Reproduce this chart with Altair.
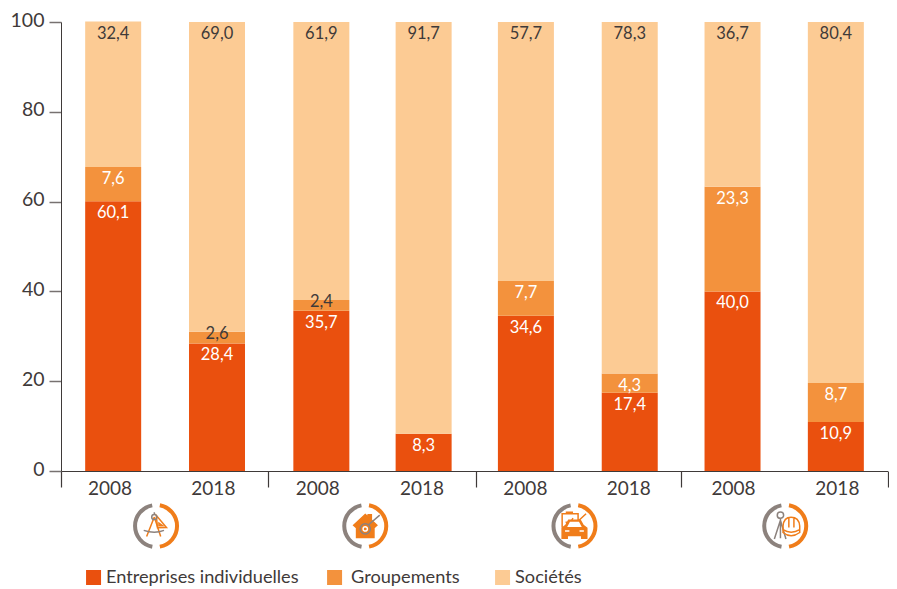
import altair as alt
import pandas as pd

years = ["2008", "2018", "2008", "2018", "2008", "2018", "2008", "2018"]
bar_pos = [0.505, 1.51, 2.52, 3.51, 4.5, 5.505, 6.5, 7.5]
year_pos = [0.47, 1.47, 2.48, 3.49, 4.49, 5.49, 6.505, 7.51]
entreprises = [60.1, 28.4, 35.7, 8.3, 34.6, 17.4, 40.0, 10.9]
groupements = [7.6, 2.6, 2.4, None, 7.7, 4.3, 23.3, 8.7]
societes = [32.4, 69.0, 61.9, 91.7, 57.7, 78.3, 36.7, 80.4]
series = ["Entreprises individuelles", "Groupements", "Sociétés"]
colors = ["#ea500e", "#f3923d", "#fccb94"]
y_ticks = [0, 20, 40, 60, 80, 100]
dividers = [0, 2, 4.015, 6, 8]
icon_x = [0.92, 2.945, 4.97, 7.01]
legend_swatch_x = [0.315, 2.648, 4.274]
legend_text_x = [0.435, 2.807, 4.395]

icon_paths = [
    ("M-.12,-.62 L-.65,.72 M-.12,-.62 L.32,.72", "#f07d1a", "none"),
    ("M.02,-.72 L.72,.1 L.1,.12 Z M.2,-.2 L.45,-.02 L.2,-.02 Z", "#f07d1a", "none"),
    ("M-.85,.3 Q-.1,.55 .55,.3 M-.12,-.95 L-.12,-.78 M-.3,-.62 A.17,.17 0 1 1 .06,-.62 A.17,.17 0 1 1 -.3,-.62", "#8c827d", "none"),
    ("M-.8,-.05 L0,-.8 L.2,-.62 L.2,-.78 L.42,-.78 L.42,-.42 L.8,-.05 L.65,.08 L.6,.02 L.6,.8 L-.6,.8 L-.6,.02 L-.65,.08 Z", "#f07d1a", "#f07d1a"),
    ("M-.35,.2 A.35,.35 0 1 1 .35,.2 A.35,.35 0 1 1 -.35,.2 M.25,-.1 L1,-.75", "#8c827d", "none"),
    ("M-.15,.2 A.15,.15 0 1 1 .15,.2 A.15,.15 0 1 1 -.15,.2", "#ffffff", "none"),
    ("M-.85,.1 L-.85,-.85 L.25,-.85 L.25,-.2 M-.6,-.95 L-.1,-.95 M-.6,-.3 L-.4,-.05 L-.1,-.55 M.0,-.1 L.8,-.85", "#f07d1a", "none"),
    ("M-.85,.85 L-.85,.15 L-.6,-.05 L-.4,-.4 L.4,-.4 L.6,-.05 L.85,.15 L.85,.85 L.5,.85 L.5,.65 L-.5,.65 L-.5,.85 Z", "#f07d1a", "#f07d1a"),
    ("M-.42,.02 L-.28,-.25 L.28,-.25 L.42,.02 Z M-.65,.35 L-.35,.35 M.35,.35 L.65,.35", "#ffffff", "#ffffff"),
    ("M-.55,-.75 A.22,.22 0 1 1 -.11,-.75 A.22,.22 0 1 1 -.55,-.75 M-.33,-.55 L-.33,.85 M-.33,-.4 L-.75,.9 M-.33,-.4 L.05,.9", "#8c827d", "none"),
    ("M-.15,.45 L-.15,0 Q-.1,-.6 .4,-.6 Q.95,-.6 1,0 L1,.45 Q.4,.9 -.15,.45 Z M.25,-.55 L.25,.1 M.6,-.55 L.6,.1 M-.15,.25 Q.4,.6 1,.25", "#f07d1a", "none"),
]
icon_index = [0, 0, 0, 1, 1, 1, 2, 2, 2, 3, 3]

rows = []
for i, year in enumerate(years):
    base = 0
    for name, values in zip(series, (entreprises, groupements, societes)):
        v = values[i]
        if v is None:
            continue
        rows.append({"pos": bar_pos[i], "year": year, "serie": name, "y0": base, "y1": base + v,
                     "label": f"{v:.1f}".replace(".", ","), "small": v < 3,
                     "ink": "#3f3a39" if name == "Sociétés" or v < 3 else "#ffffff"})
        base += v
df = pd.DataFrame(rows)

x_scale = alt.Scale(domain=[0, 8], nice=False, zero=False, padding=0)
y_scale = alt.Scale(domain=[0, 100], nice=False)
color_scale = alt.Scale(domain=series, range=colors)
FONT = "Lato"
INK = "#3f3a39"

bars = alt.Chart(df).mark_bar(size=56, stroke=None).encode(
    x=alt.X("pos:Q", scale=x_scale, title=None,
            axis=alt.Axis(orient="bottom", values=year_pos, tickSize=0, domain=True, domainColor=INK,
                          labelExpr="['2008','2018'][floor(datum.value) % 2]", labelFont=FONT, labelFontSize=19,
                          labelColor=INK, labelPadding=8, grid=False, labelFlush=False, labelOverlap=False)),
    y=alt.Y("y1:Q", scale=y_scale, title=None,
            axis=alt.Axis(values=y_ticks, tickSize=12, tickColor="#777170", domainColor=INK, labelFont=FONT,
                          labelFontSize=19.5, labelColor=INK, labelPadding=5, labelOffset=-2, grid=False,
                          tickWidth=1.5)),
    y2="y0:Q",
    color=alt.Color("serie:N", scale=color_scale, legend=None),
)

dividers_df = pd.DataFrame({"d": dividers})
ticks = alt.Chart(dividers_df).mark_point(opacity=0).encode(
    x=alt.X("d:Q", scale=x_scale, title=None,
            axis=alt.Axis(orient="bottom", values=dividers, tickSize=16, tickColor=INK, tickWidth=1.2, labels=False,
                          domain=False, grid=False)),
)

def labels(flag, dy):
    return alt.Chart(df[df["small"] == flag]).mark_text(font=FONT, fontSize=16.5, baseline="middle", dy=dy).encode(
        x=alt.X("pos:Q", scale=x_scale, axis=None),
        y=alt.Y("y1:Q", scale=y_scale),
        text="label:N",
        color=alt.Color("ink:N", scale=None),
    )

arcs_df = pd.DataFrame({"ix": icon_x})
arc_y = 526 - 22
def arc(color, t0, t1):
    return alt.Chart(arcs_df).mark_arc(radius=23, radius2=19, theta=t0, theta2=t1, fill=color, stroke=None).encode(
        x=alt.X("ix:Q", scale=x_scale, axis=None, stack=None),
        y=alt.value(arc_y),
    )

icons_df = pd.DataFrame([
    {"ix": icon_x[k], "shape": p[0], "stroke": p[1], "fill": p[2]}
    for k, p in zip(icon_index, icon_paths)
])
icons = alt.Chart(icons_df).mark_point(size=840, filled=True, strokeWidth=1.5, opacity=1).encode(
    x=alt.X("ix:Q", scale=x_scale, axis=None),
    y=alt.value(arc_y),
    shape=alt.Shape("shape:N", scale=None),
    stroke=alt.Stroke("stroke:N", scale=None),
    fill=alt.Fill("fill:N", scale=None),
    order=alt.Order("idx:Q"),
).transform_window(idx="row_number()")

legend_df = pd.DataFrame({"serie": series, "sx": legend_swatch_x, "tx": legend_text_x})
legend_y = 577.5 - 22
swatches = alt.Chart(legend_df).mark_square(size=225, opacity=1).encode(
    x=alt.X("sx:Q", scale=x_scale, axis=None),
    y=alt.value(legend_y),
    color=alt.Color("serie:N", scale=color_scale, legend=None),
)
legend_text = alt.Chart(legend_df).mark_text(font=FONT, fontSize=18.2, align="left", baseline="middle",
                                             color=INK).encode(
    x=alt.X("tx:Q", scale=x_scale, axis=None),
    y=alt.value(legend_y),
    text="serie:N",
)

chart = alt.layer(
    bars, ticks, labels(False, 12), labels(True, 2),
    arc("#8c827d", 3.32, 6.1), arc("#f07d1a", 0.18, 2.96), icons, swatches, legend_text,
).resolve_axis(x="independent").properties(
    width=826.5, height=449,
    autosize=alt.AutoSizeParams(type="none"),
    padding={"left": 53, "top": 14, "right": 1, "bottom": 116},
).configure_view(stroke=None)

chart.save("out.html", embed_options={"renderer": "svg", "actions": False})
